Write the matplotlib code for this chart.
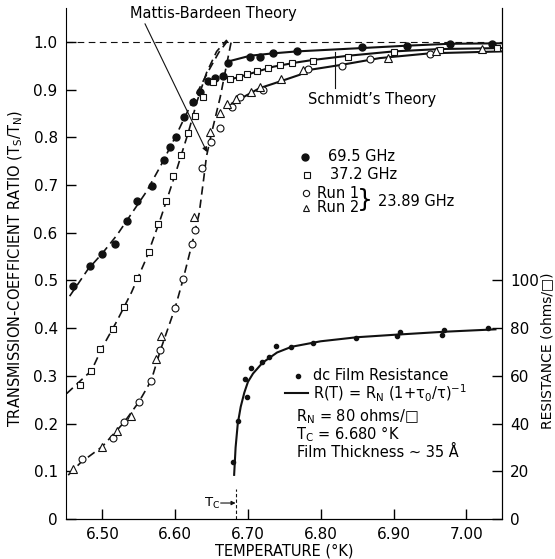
"""
Transmission-coefficient ratio vs temperature, with dc film resistance on a twin axis.
"""

import matplotlib
matplotlib.use("Agg")
import matplotlib.pyplot as plt


# 69.5 GHz (filled circles)
T_695 = [6.460, 6.483, 6.499, 6.517, 6.534, 6.548, 6.568, 6.584, 6.593, 6.601,
         6.612, 6.624, 6.634, 6.645, 6.655, 6.666, 6.673, 6.703, 6.716, 6.735,
         6.767, 6.856, 6.918, 6.977, 7.035]
V_695 = [0.488, 0.530, 0.556, 0.576, 0.625, 0.667, 0.697, 0.753, 0.780, 0.801,
         0.842, 0.875, 0.894, 0.918, 0.924, 0.929, 0.955, 0.969, 0.968, 0.976,
         0.980, 0.990, 0.992, 0.996, 0.996]

# 37.2 GHz (open squares)
T_372 = [6.469, 6.485, 6.497, 6.514, 6.530, 6.548, 6.564, 6.577, 6.587, 6.597,
         6.608, 6.618, 6.627, 6.638, 6.652, 6.675, 6.688, 6.698, 6.712, 6.728,
         6.744, 6.760, 6.789, 6.838, 6.900, 6.964, 7.042]
V_372 = [0.281, 0.311, 0.356, 0.398, 0.445, 0.506, 0.559, 0.618, 0.667, 0.718,
         0.763, 0.810, 0.845, 0.885, 0.915, 0.922, 0.926, 0.933, 0.940, 0.945,
         0.951, 0.955, 0.960, 0.969, 0.978, 0.983, 0.988]

# 23.89 GHz run 1 (open circles)
T_RUN1 = [6.472, 6.515, 6.530, 6.550, 6.567, 6.579, 6.600, 6.611, 6.623, 6.627,
          6.637, 6.649, 6.661, 6.678, 6.689, 6.721, 6.783, 6.829, 6.868, 6.950]
V_RUN1 = [0.126, 0.169, 0.203, 0.245, 0.290, 0.354, 0.443, 0.503, 0.576, 0.606,
          0.735, 0.790, 0.820, 0.864, 0.885, 0.900, 0.943, 0.950, 0.964, 0.974]

# 23.89 GHz run 2 (open triangles)
T_RUN2 = [6.460, 6.499, 6.520, 6.539, 6.574, 6.580, 6.626, 6.648, 6.662, 6.671,
          6.684, 6.704, 6.716, 6.746, 6.776, 6.893, 6.959, 7.021]
V_RUN2 = [0.105, 0.150, 0.185, 0.216, 0.335, 0.384, 0.632, 0.812, 0.850, 0.870,
          0.880, 0.894, 0.906, 0.922, 0.941, 0.967, 0.981, 0.986]

# Mattis-Bardeen theory (dashed)
MB_T_695 = [6.455, 6.480, 6.500, 6.520, 6.540, 6.560, 6.580, 6.600, 6.615, 6.630,
            6.645, 6.660, 6.672]
MB_V_695 = [0.467, 0.523, 0.557, 0.595, 0.640, 0.685, 0.740, 0.800, 0.848, 0.893,
            0.937, 0.978, 1.002]
MB_T_372 = [6.451, 6.470, 6.485, 6.500, 6.520, 6.540, 6.560, 6.580, 6.600, 6.618,
            6.630, 6.643, 6.657, 6.671]
MB_V_372 = [0.263, 0.290, 0.311, 0.360, 0.415, 0.475, 0.545, 0.630, 0.722, 0.810,
            0.875, 0.935, 0.980, 1.004]
MB_T_2389 = [6.453, 6.470, 6.500, 6.530, 6.550, 6.567, 6.580, 6.600, 6.611, 6.623,
             6.633, 6.639, 6.643, 6.650, 6.662, 6.671, 6.678]
MB_V_2389 = [0.092, 0.118, 0.152, 0.203, 0.245, 0.290, 0.355, 0.443, 0.503, 0.576,
             0.641, 0.711, 0.760, 0.809, 0.885, 0.955, 1.008]

# Schmidt's theory (solid)
SC_T_695 = [6.673, 6.703, 6.735, 6.767, 6.856, 6.918, 6.977, 7.048]
SC_V_695 = [0.959, 0.971, 0.976, 0.980, 0.987, 0.992, 0.996, 0.997]
SC_T_372 = [6.673, 6.698, 6.735, 6.767, 6.789, 6.838, 6.900, 6.964, 7.048]
SC_V_372 = [0.920, 0.931, 0.948, 0.957, 0.962, 0.971, 0.980, 0.985, 0.987]
SC_T_2389 = [6.678, 6.716, 6.744, 6.771, 6.783, 6.829, 6.881, 6.950, 7.048]
SC_V_2389 = [0.871, 0.903, 0.917, 0.931, 0.941, 0.952, 0.966, 0.976, 0.980]

# dc film resistance (ohms/square)
T_DC = [6.679, 6.686, 6.696, 6.699, 6.704, 6.719, 6.729, 6.738, 6.759, 6.789,
        6.849, 6.905, 6.909, 6.967, 6.970, 7.030]
R_DC = [23.8, 41.1, 58.5, 51.0, 63.5, 65.8, 68.0, 72.5, 72.3, 73.7,
        75.8, 76.7, 78.5, 77.1, 79.2, 80.0]
T_FIT = [6.681, 6.683, 6.686, 6.690, 6.695, 6.700, 6.707, 6.720, 6.740, 6.760,
         6.800, 6.850, 6.900, 6.970, 7.040]
R_FIT = [18.5, 30.0, 40.0, 47.0, 53.0, 57.5, 61.0, 65.5, 69.8, 72.2,
         74.5, 76.2, 77.2, 78.5, 79.5]

TC = 6.683
X_TICKS = [6.50, 6.60, 6.70, 6.80, 6.90, 7.00]
Y_TICKS = [0, 0.1, 0.2, 0.3, 0.4, 0.5, 0.6, 0.7, 0.8, 0.9, 1.0]
R_TICKS = [0, 20, 40, 60, 80, 100]

INK = "#111111"
DASH = (0, (5, 3))


def main():
    plt.rcParams["font.family"] = ["DejaVu Sans"]
    plt.rcParams["mathtext.default"] = "regular"

    fig = plt.figure(figsize=(5.55, 5.59), dpi=100)
    ax = fig.add_axes([66 / 555, 1 - 519 / 559, 436 / 555, 511 / 559])
    ax2 = ax.twinx()

    ax.set_xlim(6.45, 7.049)
    ax.set_ylim(0, 1.071)
    ax2.set_ylim(0, 1.071 * 200)

    # theory curves
    for t, v in [(MB_T_695, MB_V_695), (MB_T_372, MB_V_372), (MB_T_2389, MB_V_2389)]:
        ax.plot(t, v, color=INK, lw=1.2, linestyle=DASH, zorder=2)
    for t, v in [(SC_T_695, SC_V_695), (SC_T_372, SC_V_372), (SC_T_2389, SC_V_2389)]:
        ax.plot(t, v, color=INK, lw=1.5, zorder=2)
    ax.axhline(1.0, color=INK, lw=0.8, linestyle=(0, (6, 4)), zorder=1)

    # measured points
    ax.plot(T_695, V_695, "o", ms=5, color=INK, zorder=4)
    ax.plot(T_372, V_372, "s", ms=5, mfc="white", mec=INK, mew=0.8, zorder=4)
    ax.plot(T_RUN1, V_RUN1, "o", ms=5, mfc="white", mec=INK, mew=0.8, zorder=4)
    ax.plot(T_RUN2, V_RUN2, "^", ms=6, mfc="white", mec=INK, mew=0.8, zorder=4)

    # resistance
    ax2.plot(T_FIT, R_FIT, color=INK, lw=1.5, zorder=2)
    ax2.plot(T_DC, R_DC, "o", ms=3, color=INK, zorder=3)

    # axes styling
    for a in (ax, ax2):
        a.spines["top"].set_visible(False)
    ax2.spines["left"].set_visible(False)
    ax.set_xticks(X_TICKS)
    ax.set_xticklabels([f"{x:.2f}" for x in X_TICKS])
    ax.set_yticks(Y_TICKS)
    ax.set_yticklabels(["0"] + [f"{y:.1f}" for y in Y_TICKS[1:]])
    ax2.set_yticks(R_TICKS)
    ax2.set_yticklabels([str(r) for r in R_TICKS])
    ax.tick_params(direction="in", length=7, width=1, labelsize=11, pad=6,
                   top=False, right=False)
    ax2.tick_params(direction="in", length=7, width=1, labelsize=11, pad=6)

    ax.set_xlabel("TEMPERATURE (°K)", fontsize=10.5, labelpad=1)
    ax.set_ylabel("TRANSMISSION-COEFFICIENT RATIO (T$_S$/T$_N$)", fontsize=10.5)
    ax.yaxis.set_label_coords(-0.095, 0.49)
    ax2.set_ylabel("RESISTANCE (ohms/\u25a1)", fontsize=10)
    ax2.yaxis.set_label_coords(1.088, 0.33)

    # annotations
    ax.text(6.652, 1.059, "Mattis-Bardeen Theory", fontsize=10.5, ha="center",
            va="center")
    ax.annotate("", xy=(6.6437, 0.769), xytext=(6.5585, 1.038),
                arrowprops=dict(arrowstyle="-|>", lw=0.8, color=INK,
                                mutation_scale=7, shrinkA=0, shrinkB=0))
    ax.plot([6.8195, 6.8195], [0.904, 0.979], color=INK, lw=0.8)
    ax.text(6.782, 0.880, "Schmidt\u2019s Theory", fontsize=10.5, va="center")

    # legend
    ax.plot([6.778], [0.759], "o", ms=5, color=INK)
    ax.text(6.810, 0.759, "69.5 GHz", fontsize=10.5, va="center")
    ax.plot([6.781], [0.721], "s", ms=4.5, mfc="white", mec=INK, mew=0.8)
    ax.text(6.813, 0.721, "37.2 GHz", fontsize=10.5, va="center")
    ax.plot([6.780], [0.683], "o", ms=4.5, mfc="white", mec=INK, mew=0.8)
    ax.text(6.795, 0.683, "Run 1", fontsize=10.5, va="center")
    ax.plot([6.780], [0.652], "^", ms=5, mfc="white", mec=INK, mew=0.8)
    ax.text(6.795, 0.652, "Run 2", fontsize=10.5, va="center")
    ax.text(6.861, 0.668, "}", fontsize=18, ha="center", va="center")
    ax.text(6.879, 0.665, "23.89 GHz", fontsize=10.5, va="center")

    ax.plot([6.769], [0.300], "o", ms=3, color=INK)
    ax.text(6.789, 0.300, "dc Film Resistance", fontsize=10.5, va="center")
    ax.plot([6.751, 6.782], [0.264, 0.264], color=INK, lw=1.5)
    ax.text(6.789, 0.264, "R(T) = R$_N$ (1+\u03c4$_0$/\u03c4)$^{-1}$", fontsize=10.5,
            va="center")
    ax.text(6.766, 0.2145, "R$_N$ = 80 ohms/\u25a1", fontsize=10.5, va="center")
    ax.text(6.766, 0.178, "T$_C$ = 6.680 \u00b0K", fontsize=10.5, va="center")
    ax.text(6.767, 0.140, "Film Thickness \u223c 35 \u00c5", fontsize=10.5,
            va="center")

    # Tc marker
    ax.plot([TC, TC], [0, 0.062], color=INK, lw=0.8, linestyle=(0, (3, 2)))
    ax.annotate("", xy=(TC, 0.0335), xytext=(6.6625, 0.0335),
                arrowprops=dict(arrowstyle="-|>", lw=0.8, color=INK,
                                mutation_scale=6, shrinkA=0, shrinkB=0))
    ax.text(6.6615, 0.0335, "T$_C$", fontsize=9.5, ha="right", va="center")

    fig.savefig("out.png", dpi=100, facecolor="white")
    plt.close(fig)


if __name__ == "__main__":
    main()
